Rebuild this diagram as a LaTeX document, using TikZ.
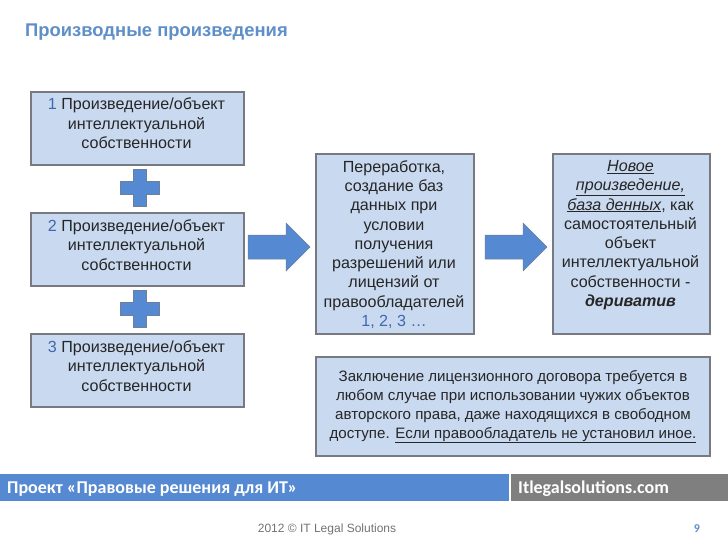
\documentclass[tikz,border=0pt]{standalone}
\usepackage{fontspec}
\setmainfont{Liberation Sans}
\newfontfamily\footfont{Carlito}
\definecolor{boxfill}{HTML}{C9D9F0}
\definecolor{boxline}{HTML}{777A80}
\definecolor{accent}{HTML}{5589D2}
\definecolor{titleblue}{HTML}{5F8FC9}
\definecolor{numblue}{HTML}{3E68B0}
\definecolor{bargrey}{HTML}{7F7F7F}
\tikzset{
  bluebox/.style={draw=boxline,line width=1.6pt,fill=boxfill,inner sep=0pt,anchor=north west},
  boxtext/.style={align=center,inner sep=0pt,anchor=base,text=black!85,font=\fontsize{16.1}{19.3}\selectfont},
  notetext/.style={align=center,inner sep=0pt,anchor=base,text=black!85,font=\fontsize{15.1}{18.7}\selectfont},
  shapefill/.style={fill=accent,draw=boxline!70!accent,line width=0.5pt},
  barbox/.style={inner sep=0pt,anchor=base west,text=white,font=\footfont\bfseries\fontsize{18}{20}\selectfont}
}
\newcommand{\num}[1]{\textcolor{numblue}{#1}}
\begin{document}
\begin{tikzpicture}[x=1pt,y=-1pt]
\useasboundingbox (0,0) rectangle (728,546);
\fill[white] (0,0) rectangle (728,546);
\node[anchor=base west,inner sep=0pt,text=titleblue,font=\bfseries\fontsize{18.4}{20}\selectfont] (title) at (25,36) {Производные произведения};
% left column
\node[bluebox,minimum width=213pt,minimum height=73pt] (b1) at (30,91) {};
\node[bluebox,minimum width=213pt,minimum height=73pt] (b2) at (30,212) {};
\node[bluebox,minimum width=213pt,minimum height=73pt] (b3) at (30,333) {};
\node[boxtext] (t1) at (136.5,148.5) {\num{1} Произведение/объект\\интеллектуальной\\собственности};
\node[boxtext] (t2) at (136.5,270) {\num{2} Произведение/объект\\интеллектуальной\\собственности};
\node[boxtext] (t3) at (136.5,391) {\num{3} Произведение/объект\\интеллектуальной\\собственности};
% plus signs
\foreach \yy in {169,290}{
  \draw[shapefill] (133,\yy) -- ++(13,0) -- ++(0,12) -- ++(13,0) -- ++(0,13) -- ++(-13,0) -- ++(0,12) -- ++(-13,0) -- ++(0,-12) -- ++(-13,0) -- ++(0,-13) -- ++(13,0) -- cycle;
}
% arrows
\foreach \xx in {248,485}{
  \draw[shapefill] (\xx,235) -- ++(38,0) -- ++(0,-12) -- ++(24,24) -- ++(-24,24) -- ++(0,-12) -- ++(-38,0) -- cycle;
}
% middle
\node[bluebox,minimum width=158pt,minimum height=180pt] (mid) at (315,153) {};
\node[boxtext] (tm) at (394,326.5) {Переработка,\\создание баз\\данных при\\условии\\получения\\разрешений или\\лицензий от\\правообладателей\\\num{1, 2, 3 …}};
% right
\node[bluebox,minimum width=157pt,minimum height=180pt] (res) at (552,153) {};
\node[boxtext] (tr) at (630.5,306.5) {\textit{\underline{Новое}}\\\textit{\underline{произведение,}}\\\textit{\underline{база денных}}, как\\самостоятельный\\объект\\интеллектуальной\\собственности -\\\textbf{\textit{дериватив}}};
% bottom
\node[bluebox,minimum width=394pt,minimum height=99pt] (note) at (315,356) {};
\node[notetext] (tn) at (513,438) {Заключение лицензионного договора требуется в\\любом случае при использовании чужих объектов\\авторского права, даже находящихся в свободном\\доступе. \underline{Если правообладатель не установил иное.}};
% footer
\fill[accent] (0,474) rectangle (509,501);
\fill[bargrey] (511,474) rectangle (728,501);
\node[barbox] (f1) at (7,493) {Проект «Правовые решения для ИТ»};
\node[barbox] (f2) at (518,493) {Itlegalsolutions.com};
\node[anchor=base,inner sep=0pt,text=black!55,font=\fontsize{12}{14}\selectfont] (f3) at (327,532) {2012 © IT Legal Solutions};
\node[anchor=base,inner sep=0pt,text=titleblue,font=\footfont\bfseries\fontsize{12}{14}\selectfont] (f4) at (697,532) {9};
\end{tikzpicture}
\end{document}
